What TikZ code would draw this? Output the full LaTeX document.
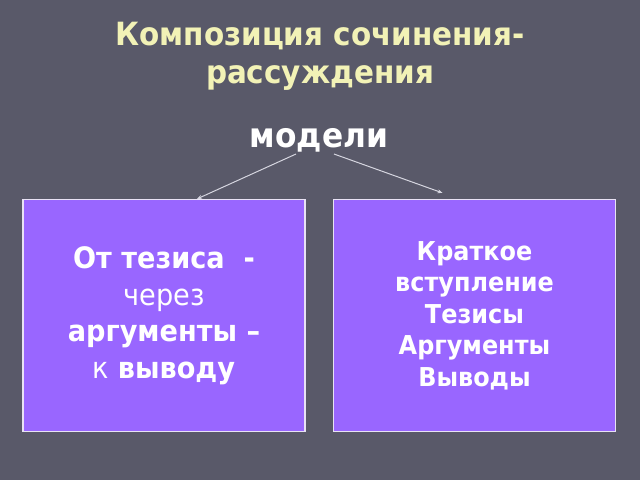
\documentclass[tikz,border=0pt]{standalone}
\usepackage{fontspec}
\setmainfont{DejaVu Sans}[FakeStretch=0.92]
\definecolor{slide}{HTML}{595969}
\definecolor{titlecol}{HTML}{F2F2B6}
\definecolor{boxfill}{HTML}{9966FF}
\definecolor{boxline}{HTML}{E8E2F4}
\definecolor{arrowcol}{HTML}{D6D6E0}
\usetikzlibrary{arrows.meta}
\tikzset{
  heading/.style={text=titlecol,font=\bfseries\fontsize{32}{38}\selectfont,align=center},
  modelbox/.style={draw=boxline,line width=1.2pt,fill=boxfill,text=white,
    minimum width=282pt,minimum height=232pt,align=center,inner sep=0pt},
  link/.style={draw=arrowcol,line width=1pt,-{Stealth[length=5pt,width=4pt]}}
}
\begin{document}
\begin{tikzpicture}[x=1pt,y=-1pt]
  \fill[slide] (0,0) rectangle (640,480);
  \useasboundingbox (0,0) rectangle (640,480);
  \node[heading,anchor=north] (title) at (320,19) {Композиция сочинения-\\рассуждения};
  \node[text=white,font=\bfseries\fontsize{34}{40}\selectfont,anchor=base] (models) at (319,147) {модели};
  \node[modelbox,font=\fontsize{29.5}{36.5}\selectfont] (left) at (164,315.5)
    {\textbf{От тезиса\ \ -}\\через\\\textbf{аргументы –}\\к \textbf{выводу}};
  \node[modelbox,font=\bfseries\fontsize{26}{31.5}\selectfont] (right) at (474.5,315.5)
    {Краткое\\вступление\\Тезисы\\Аргументы\\Выводы};
  \coordinate (fromL) at (296,154);
  \coordinate (fromR) at (334,154);
  \begin{scope}[link]
    \draw (fromL) -- ([xshift=33pt]left.north);
    \draw (fromR) -- ([xshift=-32pt,yshift=6pt]right.north);
  \end{scope}
\end{tikzpicture}
\end{document}
